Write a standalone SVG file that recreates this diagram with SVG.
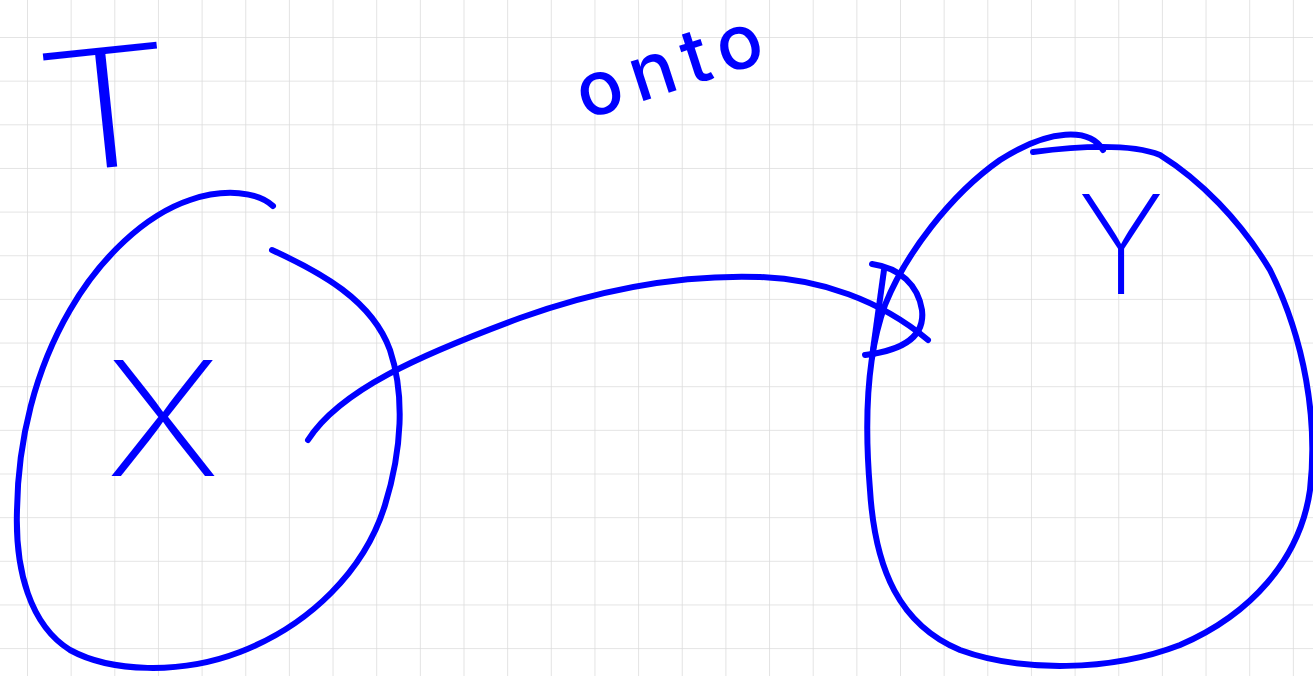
<svg xmlns="http://www.w3.org/2000/svg" width="1313" height="676" viewBox="0 0 1313 676">
<defs>
<pattern id="grid" x="27" y="37" width="43.65" height="43.65" patternUnits="userSpaceOnUse">
<path d="M0,0 H43.65 M0,0 V43.65" fill="none" stroke="#dcdcdc" stroke-width="1.6"/>
</pattern>
<style>
.ink{fill:none;stroke:#0000ff;stroke-width:6;stroke-linecap:round;stroke-linejoin:round}
.hand{font-family:Inter,"Liberation Sans",Arial,sans-serif;font-weight:200;fill:#0000ff}
.hand.mid{font-weight:500}
</style>
</defs>
<rect width="1313" height="676" fill="#ffffff"/>
<rect width="1313" height="676" fill="url(#grid)"/>
<g id="label-T">
<text class="hand" x="36" y="168" font-size="165" textLength="140" lengthAdjust="spacingAndGlyphs" transform="rotate(-6 100 110)">T</text>
</g>
<g id="label-onto">
<text class="hand mid" x="585" y="120" font-size="76" letter-spacing="10" transform="rotate(-18 585 120)">onto</text>
</g>
<g id="node-X">
<path class="ink" d="M272,250 C320,272 372,300 390,350 C405,395 402,450 385,505 C365,570 310,625 240,652 C180,675 110,672 70,650 C30,625 15,570 17,510 C18,440 35,370 70,310 C100,258 145,215 190,200 C225,188 258,192 273,206"/>
<text class="hand" x="106" y="476" font-size="160" textLength="114" lengthAdjust="spacingAndGlyphs">X</text>
</g>
<g id="node-Y">
<path class="ink" d="M1103,150 C1090,128 1050,128 1000,160 C950,195 905,255 885,305 C865,360 865,430 870,490 C875,570 900,625 960,650 C1020,672 1110,672 1180,645 C1250,615 1300,560 1310,490 C1318,420 1305,340 1270,270 C1240,220 1200,180 1160,155 C1130,143 1080,146 1033,152"/>
<text class="hand" x="1078" y="294" font-size="138" textLength="86" lengthAdjust="spacingAndGlyphs">Y</text>
</g>
<g id="connectors">
<path class="ink" d="M308,440 C340,390 420,355 520,318 C620,282 700,275 760,277 C820,279 880,300 928,340"/>
<path class="ink" d="M872,264 C900,268 918,285 922,310 C925,335 905,350 865,355"/>
<path class="ink" d="M884,270 C880,300 876,330 872,357"/>
</g>
</svg>
